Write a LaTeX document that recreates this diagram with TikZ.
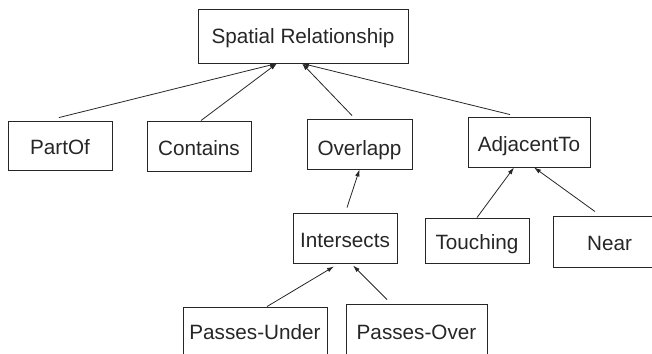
\documentclass[tikz,border=0pt]{standalone}
\usepackage{fontspec}
\setmainfont{Liberation Sans}
\usetikzlibrary{arrows.meta}
\begin{document}
\begin{tikzpicture}[x=1pt,y=-1pt,
  box/.style={draw=black!85,line width=0.9pt,inner sep=0pt,font=\fontsize{20.7}{24}\selectfont,
    text height=18.4pt,text depth=0pt,text=black!85},
  conn/.style={draw=black!85,line width=0.8pt,-{Latex[length=7pt,width=4.5pt]}}]
\useasboundingbox (0,0) rectangle (652,353);
\clip (0,0) rectangle (652,353);
\node[box,minimum width=210pt,minimum height=54pt,text height=15pt] (sr) at (303,36) {Spatial Relationship};
\node[box,minimum width=104pt,minimum height=49pt] (partof) at (60,145.5) {PartOf};
\node[box,minimum width=104pt,minimum height=50pt] (contains) at (199,146) {Contains};
\node[box,minimum width=105pt,minimum height=50pt,text height=22pt] (overlapp) at (359.5,144) {Overlapp};
\node[box,minimum width=122pt,minimum height=50pt] (adj) at (529,142) {AdjacentTo};
\node[box,minimum width=104pt,minimum height=50pt] (inter) at (345,238) {Intersects};
\node[box,minimum width=104pt,minimum height=45pt] (touching) at (477,240.5) {Touching};
\node[box,minimum width=113pt,minimum height=51pt] (near) at (609.5,241.5) {Near};
\node[box,minimum width=144pt,minimum height=52pt,text height=13.5pt] (pu) at (255,333) {Passes-Under};
\node[box,minimum width=141pt,minimum height=56pt,text height=14.5pt] (po) at (416.5,332) {Passes-Over};
\draw[conn] ([xshift=-1pt,yshift=3pt]partof.north) -- ([xshift=-26pt]sr.south);
\draw[conn] ([xshift=2pt]contains.north) -- ([xshift=-26pt]sr.south);
\draw[conn] ([xshift=-7.5pt,yshift=3pt]overlapp.north) -- ([xshift=-1pt]sr.south);
\draw[conn] ([xshift=-19pt,yshift=2pt]adj.north) -- ([xshift=-1pt]sr.south);
\draw[conn] ([xshift=2pt,yshift=5pt]inter.north) -- (overlapp.south);
\draw[conn] (touching.north) -- ([xshift=-15pt]adj.south);
\draw[conn] ([xshift=-14.5pt,yshift=4pt]near.north) -- ([xshift=5pt]adj.south);
\draw[conn] ([xshift=12pt]pu.north) -- ([xshift=-11pt,yshift=-3pt]inter.south);
\draw[conn] ([xshift=-29.5pt,yshift=4pt]po.north) -- ([xshift=8pt,yshift=-2pt]inter.south);
\end{tikzpicture}
\end{document}
